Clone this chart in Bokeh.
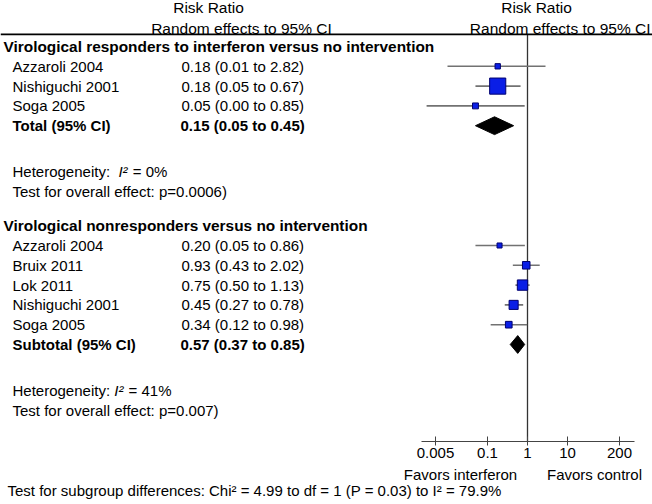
import math
from bokeh.plotting import figure
from bokeh.layouts import column
from bokeh.models import Range1d, Label, Span, FixedTicker, BasicTickFormatter
from bokeh.embed import file_html
from bokeh.resources import INLINE

# ---------------- data ----------------
header_top = "Risk Ratio"
header_sub = "Random effects to 95% CI"

g1_title = "Virological responders to interferon versus no intervention"
g1_studies = ["Azzaroli 2004", "Nishiguchi 2001", "Soga 2005"]
g1_rr = [0.18, 0.18, 0.05]
g1_lo = [0.01, 0.05, 0.003]
g1_hi = [2.82, 0.67, 0.85]
g1_text = ["0.18 (0.01 to 2.82)", "0.18 (0.05 to 0.67)", "0.05 (0.00 to 0.85)"]
g1_weight = [9, 82, 11]
g1_total_label = "Total (95% CI)"
g1_total = [0.15, 0.05, 0.45]
g1_total_text = "0.15 (0.05 to 0.45)"
g1_i2 = "0%"
g1_p = "p=0.0006)"

g2_title = "Virological nonresponders versus no intervention"
g2_studies = ["Azzaroli 2004", "Bruix 2011", "Lok 2011", "Nishiguchi 2001", "Soga 2005"]
g2_rr = [0.20, 0.93, 0.75, 0.45, 0.34]
g2_lo = [0.05, 0.43, 0.50, 0.27, 0.12]
g2_hi = [0.86, 2.02, 1.13, 0.78, 0.98]
g2_text = ["0.20 (0.05 to 0.86)", "0.93 (0.43 to 2.02)", "0.75 (0.50 to 1.13)",
           "0.45 (0.27 to 0.78)", "0.34 (0.12 to 0.98)"]
g2_weight = [8, 18, 34, 26, 14]
g2_total_label = "Subtotal (95% CI)"
g2_total = [0.57, 0.37, 0.85]
g2_total_text = "0.57 (0.37 to 0.85)"
g2_i2 = "41%"
g2_p = "p=0.007)"

tick_values = [0.005, 0.1, 1, 10, 200]
axis_bounds = [0.0023, 480]
favors_left = "Favors interferon"
favors_right = "Favors control"
footer = "Test for subgroup differences: Chi\u00b2 = 4.99 to df = 1 (P = 0.03) to I\u00b2 = 79.9%"

# ---------------- layout ----------------
W, H = 652, 504
FRAME_H = 441
AXIS_H = 23
TOP_H = FRAME_H + AXIS_H
ONE_X = 527.0      # screen x of RR = 1
DEC = 40.0         # px per decade
ROW_PX = 19.8
ROW0_Y = 46.0
ROW_TOP = -ROW0_Y / ROW_PX
ROW_BOTTOM = (FRAME_H - ROW0_Y) / ROW_PX
FONT = "Liberation Sans"
FS = 15

p = figure(width=W, height=TOP_H, x_axis_type="log",
           x_range=Range1d(10 ** (-ONE_X / DEC), 10 ** ((W - ONE_X) / DEC)),
           y_range=Range1d(ROW_BOTTOM, ROW_TOP),
           output_backend="svg", toolbar_location=None,
           y_axis_location=None,
           min_border_left=0, min_border_right=0, min_border_top=0,
           min_border_bottom=AXIS_H)
p.grid.visible = False
p.outline_line_color = None
p.background_fill_color = "white"
p.border_fill_color = "white"

ax = p.xaxis[0]
ax.ticker = FixedTicker(ticks=tick_values, minor_ticks=[])
ax.formatter = BasicTickFormatter(use_scientific=False)
ax.bounds = tuple(axis_bounds)
ax.major_tick_in = 5
ax.major_tick_out = 4
ax.minor_tick_in = 0
ax.minor_tick_out = 0
ax.major_label_standoff = 2
ax.axis_line_color = "#444444"
ax.major_tick_line_color = "#444444"
ax.axis_line_width = 1.2
ax.major_label_text_font = FONT
ax.major_label_text_font_size = f"{FS}px"
ax.major_label_text_color = "black"

# footer figure (texts under the axis)
BOT_H = H - TOP_H
bot_top = ROW_TOP + TOP_H / ROW_PX
bot_bottom = ROW_TOP + H / ROW_PX
q = figure(width=W, height=BOT_H, x_range=Range1d(0, W),
           y_range=Range1d(bot_bottom, bot_top),
           output_backend="svg", toolbar_location=None,
           x_axis_location=None, y_axis_location=None,
           min_border_left=0, min_border_right=0, min_border_top=0, min_border_bottom=0)
q.grid.visible = False
q.outline_line_color = None
q.background_fill_color = "white"
q.border_fill_color = "white"

WIDTHS = {"H": 722, "e": 556, "t": 278, "r": 333, "o": 556, "g": 556, "n": 556,
          "i": 222, "y": 500, ":": 278, " ": 278, "I": 278, "\u00b2": 333}


def adv(s, fs=FS):
    return sum(WIDTHS.get(c, 556) for c in s) / 1000.0 * fs


def lab(x, y, text, bold=False, italic=False, align="left", fs=FS, fig=None):
    fig = fig if fig is not None else p
    style = "bold" if bold else ("italic" if italic else "normal")
    fig.add_layout(Label(x=x, y=y, x_units="screen", y_units="data", text=text,
                         text_font=FONT, text_font_size=f"{fs}px",
                         text_font_style=style, text_align=align,
                         text_baseline="middle", text_color="black"))


X_TITLE, X_STUDY, X_EST = 3.0, 12.0, 181.0

# headers
HDR1, HDR2, LINE_ROW = -1.98, -0.9, -0.61
lab(208, HDR1, header_top, align="center", fs=15.5)
lab(241, HDR2, header_sub, align="center", fs=15.5)
lab(536, HDR1, header_top, align="center", fs=15.5)
lab(650, HDR2, header_sub, align="right", fs=15.5)
p.add_layout(Span(location=LINE_ROW, dimension="width", line_color="black", line_width=1.6))

# null line
p.segment(x0=[1], y0=[LINE_ROW], x1=[1], y1=[ROW_BOTTOM], line_color="#333333", line_width=1.3)


def group(base, title, studies, rr, lo, hi, texts, weights, tot_label, tot, tot_text, i2, pval, het_gap):
    lab(X_TITLE, base, title, bold=True, fs=15.4)
    rows = [base + 1 + i for i in range(len(studies))]
    for r, s, t in zip(rows, studies, texts):
        lab(X_STUDY, r, s)
        lab(X_EST, r, t)
    p.segment(x0=lo, y0=rows, x1=hi, y1=rows, line_color="#727272", line_width=1.6)
    p.scatter(x=rr, y=rows, marker="square", size=[1.78 * math.sqrt(w) for w in weights],
              fill_color="#0a1ee6", line_color="#000070", line_width=1)
    tr = base + len(studies) + 1
    lab(X_STUDY, tr, tot_label, bold=True)
    lab(X_EST - 1, tr, tot_text, bold=True)
    hh = 0.45
    p.patches(xs=[[tot[1], tot[0], tot[2], tot[0]]], ys=[[tr, tr - hh, tr, tr + hh]],
              fill_color="black", line_color="black")
    hr = tr + 2.31
    head = "Heterogeneity:" + het_gap
    x_i = X_STUDY + adv(head)
    lab(X_STUDY, hr, "Heterogeneity:")
    lab(x_i, hr, "I\u00b2", italic=True)
    lab(x_i + adv("I\u00b2") + adv(" ") + 1, hr, "= " + i2)
    lab(X_STUDY, hr + 1.0, "Test for overall effect: " + pval)


group(0, g1_title, g1_studies, g1_rr, g1_lo, g1_hi, g1_text, g1_weight,
      g1_total_label, g1_total, g1_total_text, g1_i2, g1_p, "  ")
group(9.05, g2_title, g2_studies, g2_rr, g2_lo, g2_hi, g2_text, g2_weight,
      g2_total_label, g2_total, g2_total_text, g2_i2, g2_p, " ")

# below axis
FAV_ROW, FOOT_ROW = (473.5 - ROW0_Y) / ROW_PX, (490 - ROW0_Y) / ROW_PX
lab(460, FAV_ROW, favors_left, align="center", fig=q)
lab(594, FAV_ROW, favors_right, align="center", fig=q)
lab(7, FOOT_ROW, footer, fig=q)

layout = column(p, q, spacing=0)
open("out.html", "w").write(file_html(layout, INLINE))
